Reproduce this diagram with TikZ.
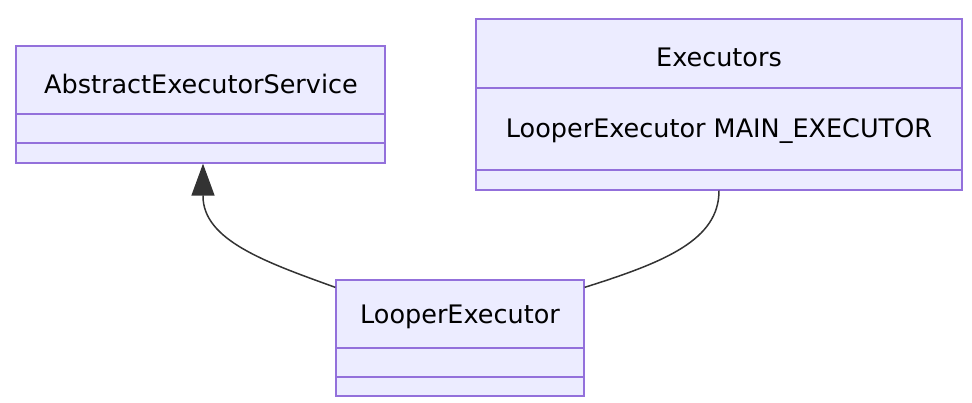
\documentclass[tikz,border=0pt]{standalone}
\usepackage{fontspec}
\setmainfont{DejaVu Sans}
\usetikzlibrary{arrows.meta}
\definecolor{cfill}{HTML}{ECECFF}
\definecolor{cstroke}{HTML}{9370DB}
\definecolor{cline}{HTML}{333333}
\tikzset{
  classbox/.style={draw=cstroke, fill=cfill, line width=1.3pt, inner sep=0pt},
  divider/.style={draw=cstroke, line width=1.3pt},
  lbl/.style={inner sep=0pt, font=\fontsize{25.5}{29}\selectfont, text=black},
  conn/.style={draw=cline, line width=1.5pt},
}
\begin{document}
\begin{tikzpicture}[x=1pt,y=1pt]
\useasboundingbox (0,0) rectangle (972,-402);
% AbstractExecutorService
\node[classbox, minimum width=369pt, minimum height=117pt] (A) at (200.5,-104.5) {};
\draw[divider] (16,-114) -- (385,-114);
\draw[divider] (16,-143) -- (385,-143);
\node[lbl] (At) at (201,-84) {AbstractExecutorService};
% Executors
\node[classbox, minimum width=486pt, minimum height=171pt] (E) at (719,-104.5) {};
\draw[divider] (476,-88) -- (962,-88);
\draw[divider] (476,-170) -- (962,-170);
\node[lbl] (Et) at (719,-57) {Executors};
\node[lbl] (Em) at (719,-131) {LooperExecutor MAIN\_EXECUTOR};
% LooperExecutor
\node[classbox, minimum width=248pt, minimum height=116pt] (L) at (460,-338) {};
\draw[divider] (336,-348) -- (584,-348);
\draw[divider] (336,-377) -- (584,-377);
\node[lbl] (Lt) at (460,-317) {LooperExecutor};
% connectors
\draw[conn, -{Triangle[width=23pt,length=32pt]}]
  ([yshift=-8pt]L.north west) .. controls (265,-262) and (203,-240) .. (203,-196) -- ([xshift=2.5pt]A.south);
\draw[conn] ([yshift=-8pt]L.north east) .. controls (665,-262) and (719,-240) .. (E.south);
\end{tikzpicture}
\end{document}
